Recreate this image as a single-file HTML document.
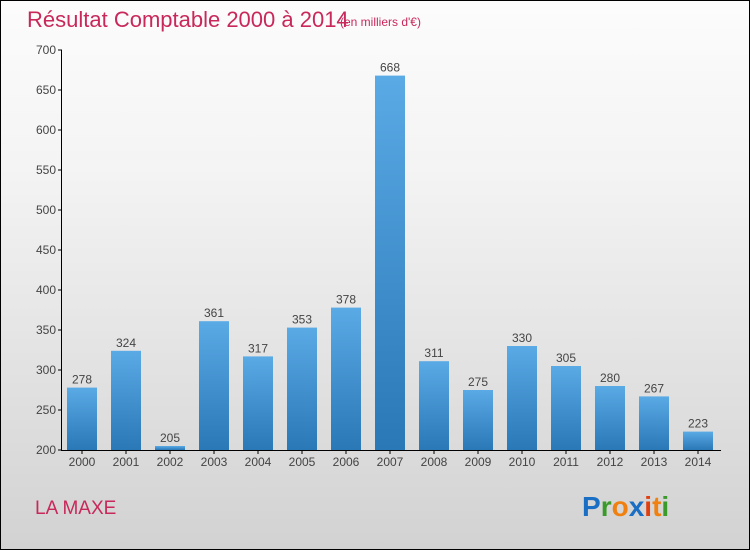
<!DOCTYPE html>
<html><head><meta charset="utf-8"><style>
body{margin:0;width:750px;height:550px;overflow:hidden;font-family:"Liberation Sans",sans-serif}
#bg{position:absolute;left:0;top:0;width:748px;height:548px;border:1px solid #000;background:linear-gradient(#fcfcfc,#f4f4f4 30%,#d2d2d2)}
</style></head><body>
<div id="bg"></div>
<svg width="750" height="550" style="position:absolute;left:0;top:0">
<defs><linearGradient id="g" x1="0" y1="0" x2="0" y2="1"><stop offset="0" stop-color="#5aaae6"/><stop offset="1" stop-color="#2a78b6"/></linearGradient></defs>
<text x="27" y="27" font-size="22" fill="#c8285a">Résultat Comptable 2000 à 2014</text>
<text x="340" y="26" font-size="12" fill="#c8285a">(en milliers d'€)</text>
<text x="35" y="514" font-size="19" fill="#c8285a">LA MAXE</text>
<g font-size="28" font-weight="bold" font-family="'Liberation Sans',sans-serif">
<text x="582" y="516"><tspan fill="#1a6fc4">P</tspan><tspan fill="#3a9a2a">r</tspan><tspan fill="#f08010">o</tspan><tspan fill="#1a6fc4">x</tspan><tspan fill="#e04010">i</tspan><tspan fill="#f08010">t</tspan><tspan fill="#3a9a2a">i</tspan></text></g>
<g id="plot"></g>
</svg>
<script>
const years=["2000","2001","2002","2003","2004","2005","2006","2007","2008","2009","2010","2011","2012","2013","2014"];
const values=[278,324,205,361,317,353,378,668,311,275,330,305,280,267,223];
const ticks=[200,250,300,350,400,450,500,550,600,650,700];
const NS="http://www.w3.org/2000/svg";
const g=document.getElementById('plot');
const y=v=>450-(v-200)*0.8;
const x=i=>82+i*44;
function mk(t,a,p){const e=document.createElementNS(NS,t);for(const k in a)e.setAttribute(k,a[k]);(p||g).appendChild(e);return e;}
values.forEach((v,i)=>{
 const r=mk('rect',{x:x(i)-15,y:y(v),width:30,height:450-y(v),fill:'url(#g)'});
 
 
 const t=mk('text',{x:x(i),y:y(v)-4,'text-anchor':'middle','font-size':12,fill:'#444'});t.textContent=v;
 
 
 const xl=mk('text',{x:x(i),y:466,'text-anchor':'middle','font-size':12,fill:'#444'});xl.textContent=years[i];
 
 
 mk('line',{x1:x(i),x2:x(i),y1:450,y2:454,stroke:'#000'});
});
ticks.forEach(v=>{
 const t=mk('text',{x:56,y:y(v)+4,'text-anchor':'end','font-size':12,fill:'#444'});t.textContent=v;
 
 
 mk('line',{x1:58,x2:62,y1:y(v),y2:y(v),stroke:'#000'});
});
const ya=mk('line',{x1:61.5,x2:61.5,y1:50,y2:450,stroke:'#000'});


const xa=mk('line',{x1:61,x2:721,y1:450.5,y2:450.5,stroke:'#000'});


</script>
</body></html>
